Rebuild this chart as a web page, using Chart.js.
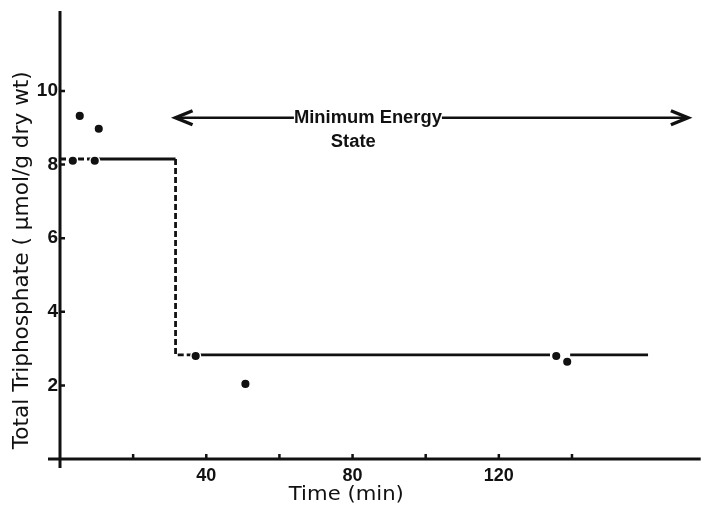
<!DOCTYPE html>
<html>
<head>
<meta charset="utf-8">
<script src="https://cdn.jsdelivr.net/npm/chart.js@4"></script>
<style>
  body { margin: 0; background: #fff; }
</style>
</head>
<body>
<canvas id="tpChart" width="707" height="505"></canvas>
<script>
// measured points (time in min, µmol/g dry wt)
var dotTime  = [3.5, 5.4, 9.5, 10.6, 37.1, 50.7, 135.7, 138.7];
var dotLevel = [8.1, 9.32, 8.1, 8.97, 2.8, 2.04, 2.8, 2.64];

// step curve, split into dashed and solid pieces (null breaks the line)
var dashTime   = [0, 9.5, 20, 31.6, 31.6, 36];
var dashLevel  = [8.15, 8.15, null, 8.15, 2.83, 2.83];
var solidTime  = [9.5, 31.6, 34, 36, 134, 136, 139.5, 160.8];
var solidLevel = [8.15, 8.15, null, 2.83, 2.83, null, 2.83, 2.83];

// "minimum energy state" arrow
var arrowTime  = [31.6, 171.7];
var arrowLevel = [9.27, 9.27];

var xTicks = [20, 40, 60, 80, 100, 120, 140];
var xTickLabels = ['', '40', '', '80', '', '120', ''];
var yTicks = [2, 4, 6, 8, 10];
var yTickLabels = ['2', '4', '6', '8', '10'];

var ink = '#111';

function toPoints(xs, ys) {
  return xs.map(function(x, i) { return { x: x, y: ys[i] }; });
}

// draws text squeezed / stretched to a given width
function fitText(ctx, text, cx, cy, width, font, angle) {
  ctx.save();
  ctx.font = font;
  var w = ctx.measureText(text).width;
  ctx.translate(cx, cy);
  if (angle) ctx.rotate(angle);
  ctx.scale(width / w, 1);
  ctx.textAlign = 'center';
  ctx.textBaseline = 'middle';
  ctx.fillStyle = ink;
  ctx.fillText(text, 0, 0);
  ctx.restore();
}

var axesPlugin = {
  id: 'axesPlugin',
  beforeDatasetsDraw: function(chart) {
    var ctx = chart.ctx;
    var xs = chart.scales.x, ys = chart.scales.y;
    var x0 = xs.getPixelForValue(0), y0 = ys.getPixelForValue(0);
    ctx.save();
    ctx.strokeStyle = ink;
    ctx.lineWidth = 3;
    ctx.beginPath();
    ctx.moveTo(x0, ys.getPixelForValue(ys.max));
    ctx.lineTo(x0, y0 + 9);
    ctx.moveTo(x0 - 12, y0);
    ctx.lineTo(xs.getPixelForValue(xs.max), y0);
    ctx.stroke();

    ctx.lineWidth = 2.5;
    ctx.beginPath();
    xTicks.forEach(function(t) {
      var p = xs.getPixelForValue(t);
      ctx.moveTo(p, y0);
      ctx.lineTo(p, y0 - 5);
    });
    yTicks.forEach(function(t) {
      var p = ys.getPixelForValue(t);
      ctx.moveTo(x0, p);
      ctx.lineTo(x0 + 5, p);
    });
    ctx.stroke();

    ctx.fillStyle = ink;
    ctx.font = 'bold 18px "Liberation Sans"';
    ctx.textAlign = 'center';
    ctx.textBaseline = 'middle';
    xTicks.forEach(function(t, i) {
      if (xTickLabels[i]) ctx.fillText(xTickLabels[i], xs.getPixelForValue(t), y0 + 17);
    });
    ctx.font = 'bold 19px "Liberation Sans"';
    ctx.textAlign = 'right';
    yTicks.forEach(function(t, i) {
      ctx.fillText(yTickLabels[i], x0 - 2, ys.getPixelForValue(t));
    });
    ctx.restore();

    fitText(ctx, 'Time (min)', xs.getPixelForValue(78.3), y0 + 36, 115, '500 20px "DejaVu Sans"', 0);
    fitText(ctx, 'Total Triphosphate ( \u03bcmol/g dry wt)', x0 - 37, ys.getPixelForValue(5.4), 378, '500 21px "DejaVu Sans"', -Math.PI / 2);
  },
  afterDatasetsDraw: function(chart) {
    var ctx = chart.ctx;
    var xs = chart.scales.x, ys = chart.scales.y;
    var ay = ys.getPixelForValue(arrowLevel[0]);
    var ax1 = xs.getPixelForValue(arrowTime[0]);
    var ax2 = xs.getPixelForValue(arrowTime[1]);
    ctx.save();
    ctx.strokeStyle = ink;
    ctx.lineWidth = 3.5;
    ctx.lineJoin = 'miter';
    ctx.beginPath();
    ctx.moveTo(ax1 + 17, ay - 7);
    ctx.lineTo(ax1, ay);
    ctx.lineTo(ax1 + 17, ay + 7);
    ctx.moveTo(ax2 - 17, ay - 7);
    ctx.lineTo(ax2, ay);
    ctx.lineTo(ax2 - 17, ay + 7);
    ctx.stroke();
    // white box behind the label so the arrow line stops at the text
    var lx = xs.getPixelForValue(84.2);
    ctx.fillStyle = '#fff';
    ctx.fillRect(lx - 74, ay - 8, 148, 16);
    ctx.restore();
    fitText(ctx, 'Minimum Energy', lx, ay, 148, 'bold 18px "Liberation Sans"', 0);
    fitText(ctx, 'State', xs.getPixelForValue(80.2), ys.getPixelForValue(8.61), 45, 'bold 18px "Liberation Sans"', 0);
  }
};

var chart = new Chart(document.getElementById('tpChart'), {
  type: 'scatter',
  data: {
    datasets: [{
      label: 'measured',
      data: toPoints(dotTime, dotLevel),
      pointRadius: 4.8,
      pointBackgroundColor: ink,
      pointBorderColor: '#fff',
      pointBorderWidth: 1.5,
      showLine: false
    }, {
      label: 'step dashed',
      data: toPoints(dashTime, dashLevel),
      showLine: true,
      spanGaps: false,
      pointRadius: 0,
      borderColor: ink,
      borderWidth: 2.8,
      borderDash: [6, 3]
    }, {
      label: 'step solid',
      data: toPoints(solidTime, solidLevel),
      showLine: true,
      spanGaps: false,
      pointRadius: 0,
      borderColor: ink,
      borderWidth: 2.8
    }, {
      label: 'arrow',
      data: toPoints(arrowTime, arrowLevel),
      showLine: true,
      pointRadius: 0,
      borderColor: ink,
      borderWidth: 2.5
    }]
  },
  options: {
    responsive: false,
    animation: false,
    events: [],
    layout: { padding: { left: 60, right: 4, top: 11, bottom: 46 } },
    plugins: { legend: { display: false }, tooltip: { enabled: false } },
    scales: {
      x: { type: 'linear', display: false, min: 0, max: 175.2 },
      y: { type: 'linear', display: false, min: 0, max: 12.17 }
    }
  },
  plugins: [axesPlugin]
});
</script>
</body>
</html>
